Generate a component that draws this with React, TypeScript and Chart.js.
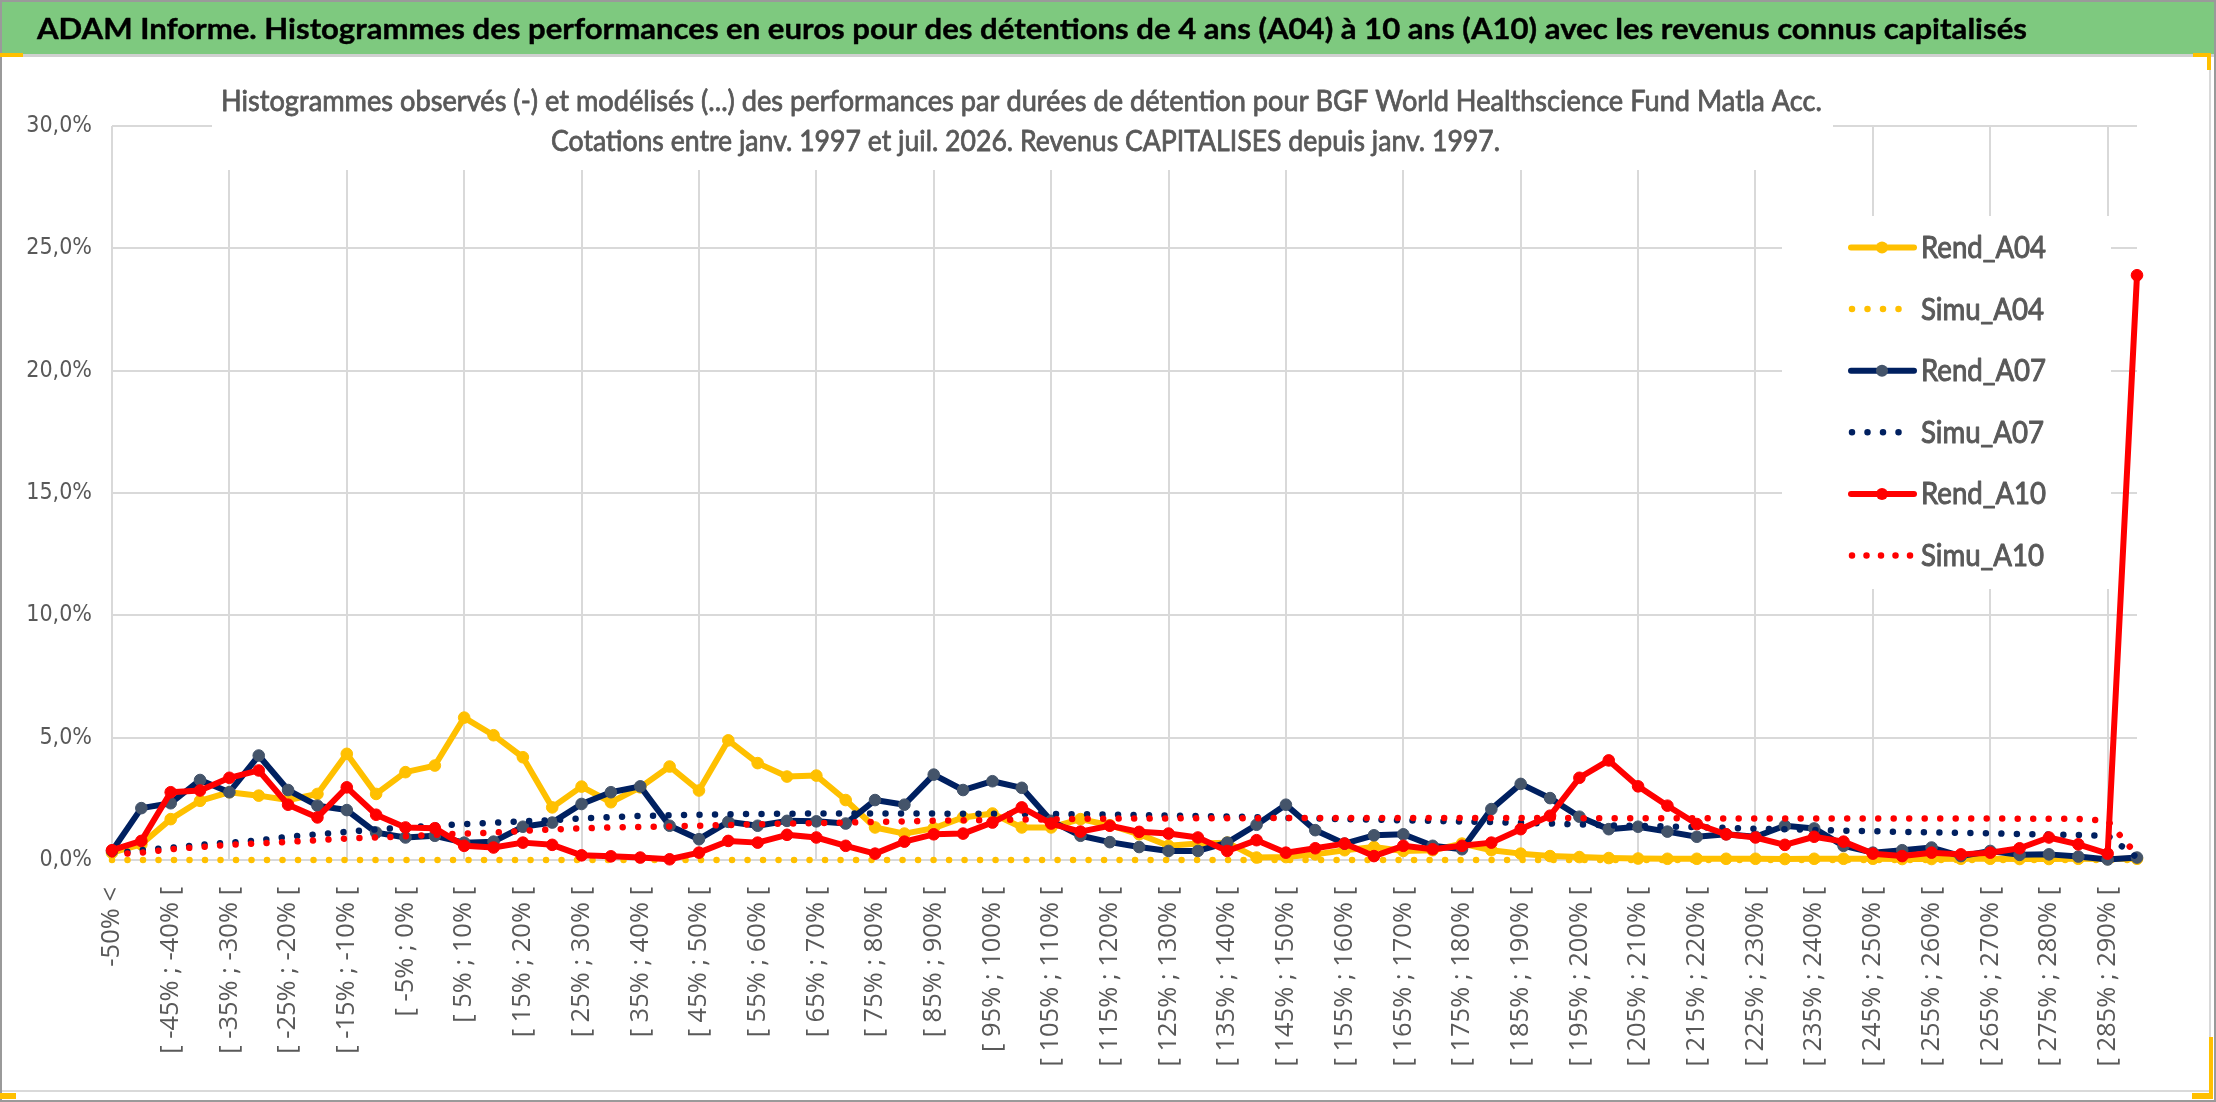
import { useEffect, useRef } from 'react';
import { Chart, registerables } from 'chart.js';

Chart.register(...registerables);

// classes de performance (pas de 5 %)
const categories: string[] = [
  '-50% <', '[ -50% ; -45% [', '[ -45% ; -40% [', '[ -40% ; -35% [', '[ -35% ; -30% [',
  '[ -30% ; -25% [', '[ -25% ; -20% [', '[ -20% ; -15% [', '[ -15% ; -10% [', '[ -10% ; -5% [',
  '[ -5% ; 0% [', '[ 0% ; 5% [', '[ 5% ; 10% [', '[ 10% ; 15% [', '[ 15% ; 20% [',
  '[ 20% ; 25% [', '[ 25% ; 30% [', '[ 30% ; 35% [', '[ 35% ; 40% [', '[ 40% ; 45% [',
  '[ 45% ; 50% [', '[ 50% ; 55% [', '[ 55% ; 60% [', '[ 60% ; 65% [', '[ 65% ; 70% [',
  '[ 70% ; 75% [', '[ 75% ; 80% [', '[ 80% ; 85% [', '[ 85% ; 90% [', '[ 90% ; 95% [',
  '[ 95% ; 100% [', '[ 100% ; 105% [', '[ 105% ; 110% [', '[ 110% ; 115% [', '[ 115% ; 120% [',
  '[ 120% ; 125% [', '[ 125% ; 130% [', '[ 130% ; 135% [', '[ 135% ; 140% [', '[ 140% ; 145% [',
  '[ 145% ; 150% [', '[ 150% ; 155% [', '[ 155% ; 160% [', '[ 160% ; 165% [', '[ 165% ; 170% [',
  '[ 170% ; 175% [', '[ 175% ; 180% [', '[ 180% ; 185% [', '[ 185% ; 190% [', '[ 190% ; 195% [',
  '[ 195% ; 200% [', '[ 200% ; 205% [', '[ 205% ; 210% [', '[ 210% ; 215% [', '[ 215% ; 220% [',
  '[ 220% ; 225% [', '[ 225% ; 230% [', '[ 230% ; 235% [', '[ 235% ; 240% [', '[ 240% ; 245% [',
  '[ 245% ; 250% [', '[ 250% ; 255% [', '[ 255% ; 260% [', '[ 260% ; 265% [', '[ 265% ; 270% [',
  '[ 270% ; 275% [', '[ 275% ; 280% [', '[ 280% ; 285% [', '[ 285% ; 290% [', '> 290%',
];

// fréquences en %
const rendA04: number[] = [
  0.30, 0.64, 1.67, 2.42, 2.77, 2.63, 2.45, 2.70, 4.34, 2.70,
  3.59, 3.86, 5.82, 5.10, 4.20, 2.15, 3.00, 2.36, 2.97, 3.82,
  2.84, 4.89, 3.96, 3.41, 3.45, 2.45, 1.33, 1.08, 1.30, 1.74,
  1.90, 1.33, 1.33, 1.67, 1.42, 1.05, 0.58, 0.67, 0.71, 0.10,
  0.12, 0.23, 0.40, 0.53, 0.37, 0.40, 0.67, 0.40, 0.26, 0.16,
  0.12, 0.08, 0.06, 0.05, 0.05, 0.05, 0.05, 0.04, 0.05, 0.05,
  0.05, 0.04, 0.04, 0.05, 0.05, 0.04, 0.04, 0.05, 0.04, 0.05,
];
const simuA04: number[] = [
  0, 0, 0, 0, 0, 0, 0, 0, 0, 0,
  0, 0, 0, 0, 0, 0, 0, 0, 0, 0,
  0, 0, 0, 0, 0, 0, 0, 0, 0, 0,
  0, 0, 0, 0, 0, 0, 0, 0, 0, 0,
  0, 0, 0, 0, 0, 0, 0, 0, 0, 0,
  0, 0, 0, 0, 0, 0, 0, 0, 0, 0,
  0, 0, 0, 0, 0, 0, 0, 0, 0, 0,
];
const rendA07: number[] = [
  0.37, 2.12, 2.32, 3.27, 2.77, 4.27, 2.86, 2.22, 2.04, 1.12,
  0.92, 0.99, 0.71, 0.75, 1.36, 1.53, 2.29, 2.77, 3.01, 1.40,
  0.85, 1.56, 1.40, 1.60, 1.58, 1.49, 2.45, 2.26, 3.49, 2.86,
  3.22, 2.95, 1.60, 0.99, 0.73, 0.53, 0.37, 0.37, 0.71, 1.44,
  2.26, 1.22, 0.67, 1.01, 1.05, 0.58, 0.44, 2.08, 3.11, 2.53,
  1.77, 1.26, 1.36, 1.16, 0.95, 1.05, 0.95, 1.40, 1.29, 0.58,
  0.30, 0.40, 0.51, 0.16, 0.37, 0.21, 0.23, 0.14, 0.02, 0.10,
];
const simuA07: number[] = [
  0.26, 0.40, 0.50, 0.62, 0.71, 0.80, 0.95, 1.05, 1.15, 1.25,
  1.33, 1.40, 1.47, 1.52, 1.58, 1.63, 1.70, 1.75, 1.80, 1.83,
  1.85, 1.87, 1.88, 1.89, 1.90, 1.90, 1.90, 1.90, 1.90, 1.89,
  1.89, 1.88, 1.88, 1.87, 1.86, 1.84, 1.82, 1.80, 1.78, 1.75,
  1.72, 1.70, 1.67, 1.65, 1.62, 1.60, 1.57, 1.55, 1.52, 1.49,
  1.45, 1.42, 1.39, 1.37, 1.34, 1.31, 1.28, 1.26, 1.23, 1.20,
  1.18, 1.15, 1.13, 1.11, 1.09, 1.06, 1.04, 1.02, 0.99, 0.10,
];
const rendA10: number[] = [
  0.40, 0.78, 2.77, 2.84, 3.36, 3.66, 2.26, 1.74, 2.97, 1.85,
  1.33, 1.30, 0.58, 0.51, 0.71, 0.62, 0.19, 0.15, 0.10, 0.03,
  0.30, 0.78, 0.71, 1.03, 0.92, 0.58, 0.26, 0.75, 1.05, 1.08,
  1.53, 2.15, 1.49, 1.16, 1.40, 1.15, 1.08, 0.92, 0.37, 0.81,
  0.30, 0.48, 0.67, 0.16, 0.58, 0.44, 0.58, 0.71, 1.26, 1.81,
  3.36, 4.07, 3.01, 2.22, 1.47, 1.05, 0.92, 0.62, 0.95, 0.75,
  0.26, 0.16, 0.30, 0.23, 0.30, 0.48, 0.92, 0.64, 0.26, 23.90,
];
const simuA10: number[] = [
  0.23, 0.30, 0.44, 0.53, 0.62, 0.68, 0.74, 0.81, 0.88, 0.92,
  0.97, 1.03, 1.08, 1.12, 1.19, 1.25, 1.29, 1.33, 1.35, 1.37,
  1.40, 1.43, 1.46, 1.49, 1.51, 1.53, 1.56, 1.58, 1.60, 1.62,
  1.63, 1.65, 1.66, 1.68, 1.69, 1.70, 1.70, 1.71, 1.71, 1.71,
  1.72, 1.72, 1.72, 1.72, 1.72, 1.72, 1.72, 1.72, 1.72, 1.72,
  1.71, 1.71, 1.71, 1.71, 1.71, 1.70, 1.70, 1.70, 1.70, 1.70,
  1.70, 1.70, 1.70, 1.70, 1.70, 1.69, 1.69, 1.68, 1.60, 0.20,
];

const seriesNames = ['Rend_A04', 'Simu_A04', 'Rend_A07', 'Simu_A07', 'Rend_A10', 'Simu_A10'];

const bannerText =
  'ADAM Informe. Histogrammes des performances en euros pour des détentions de 4 ans (A04) à 10 ans (A10) avec les revenus connus capitalisés';
const titleLines = [
  'Histogrammes observés (-) et modélisés (...) des performances par durées de détention pour BGF World Healthscience Fund Matla Acc.',
  'Cotations entre janv. 1997 et juil. 2026. Revenus CAPITALISES depuis janv. 1997.',
];

const GRAY = '#595959';
const GRID = '#d9d9d9';
const YELLOW = '#FFC000';
const NAVY = '#002060';
const SLATE = '#44546A';
const RED = '#FF0000';

// texte ajusté à une largeur donnée, avec un léger contour pour épaissir le trait
function fitText(
  ctx: CanvasRenderingContext2D, text: string, x: number, y: number, width: number,
  font: string, color: string, stroke = 0,
) {
  ctx.save();
  ctx.font = font;
  ctx.fillStyle = color;
  ctx.strokeStyle = color;
  ctx.textAlign = 'left';
  ctx.textBaseline = 'alphabetic';
  const w = ctx.measureText(text).width;
  ctx.translate(x, y);
  ctx.scale(width / w, 1);
  ctx.fillText(text, 0, 0);
  if (stroke > 0) {
    ctx.lineWidth = stroke;
    ctx.lineJoin = 'round';
    ctx.strokeText(text, 0, 0);
  }
  ctx.restore();
}

const decorPlugin = {
  id: 'decor',
  beforeDraw(chart: Chart) {
    const ctx = chart.ctx;
    ctx.save();
    ctx.fillStyle = '#ffffff';
    ctx.fillRect(0, 0, chart.width, chart.height);
    // bandeau vert
    ctx.fillStyle = '#7ec97f';
    ctx.fillRect(0, 2, chart.width, 52);
    ctx.fillStyle = '#8a8a8a';
    ctx.fillRect(0, 0, chart.width, 2);
    ctx.fillStyle = '#d0d0d0';
    ctx.fillRect(0, 54, chart.width, 3);
    ctx.restore();
    fitText(ctx, bannerText, 37, 39, 1990, 'bold 29px Lato, "Open Sans", sans-serif', '#000000', 0.4);
  },
  beforeDatasetsDraw(chart: Chart) {
    const ctx = chart.ctx;
    ctx.save();
    ctx.fillStyle = '#ffffff';
    ctx.fillRect(212, 60, 1621, 110); // titre
    ctx.fillRect(1782, 216, 329, 373); // légende
    ctx.restore();
  },
  afterDraw(chart: Chart) {
    const ctx = chart.ctx;
    const titleFont = 'normal 29px Lato, "Open Sans", sans-serif';
    fitText(ctx, titleLines[0], 221, 111, 1601, titleFont, GRAY, 0.8);
    fitText(ctx, titleLines[1], 551, 151, 949, titleFont, GRAY, 0.8);

    // légende
    const colors = [YELLOW, YELLOW, NAVY, NAVY, RED, RED];
    const markers = [YELLOW, null, SLATE, null, RED, null];
    const legendFont = 'normal 30px Lato, "Open Sans", sans-serif';
    seriesNames.forEach((name, i) => {
      const cy = 247.5 + i * 61.6;
      ctx.save();
      ctx.strokeStyle = colors[i];
      ctx.lineWidth = 6;
      ctx.lineCap = 'round';
      if (markers[i]) {
        ctx.beginPath();
        ctx.moveTo(1851, cy);
        ctx.lineTo(1914, cy);
        ctx.stroke();
        ctx.fillStyle = markers[i] as string;
        ctx.beginPath();
        ctx.arc(1882, cy, 6, 0, Math.PI * 2);
        ctx.fill();
      } else {
        const gap = i === 5 ? 14.5 : 15.5;
        ctx.lineWidth = 6.5;
        ctx.setLineDash([0.001, gap]);
        ctx.beginPath();
        ctx.moveTo(1852, cy);
        ctx.lineTo(1912, cy);
        ctx.stroke();
      }
      ctx.restore();
      const w = name.startsWith('Rend') ? 125 : 123;
      fitText(ctx, name, 1921, cy + 10.5, w, legendFont, GRAY, 1);
    });

    // cadre
    ctx.save();
    ctx.fillStyle = GRID;
    ctx.fillRect(2209, 57, 2, 1035);
    ctx.fillRect(0, 1090, 2211, 2);
    ctx.strokeStyle = '#9a9a9a';
    ctx.lineWidth = 2;
    ctx.strokeRect(1, 1, chart.width - 2, chart.height - 2);
    ctx.fillStyle = YELLOW;
    ctx.fillRect(0, 53, 23, 4);
    ctx.fillRect(2193, 53, 18, 4);
    ctx.fillRect(2207, 53, 4, 17);
    ctx.fillRect(0, 1093, 16, 6);
    ctx.fillRect(2192, 1093, 21, 6);
    ctx.fillRect(2209, 1037, 4, 62);
    ctx.restore();
  },
};

const dotted = { borderDash: [0.001, 15.5], borderCapStyle: 'round' as const, pointRadius: 0, borderWidth: 6.5 };
const solid = { borderWidth: 6, borderJoinStyle: 'round' as const, pointRadius: 5.8, pointBorderWidth: 1 };

export default function App() {
  const canvasRef = useRef<HTMLCanvasElement>(null);
  const chartRef = useRef<Chart | null>(null);

  useEffect(() => {
    if (!canvasRef.current) return;
    if (chartRef.current) chartRef.current.destroy();

    chartRef.current = new Chart(canvasRef.current, {
      type: 'line',
      data: {
        labels: categories,
        datasets: [
          { label: seriesNames[0], data: rendA04, borderColor: YELLOW, pointBackgroundColor: YELLOW, pointBorderColor: YELLOW, order: 5, ...solid },
          { label: seriesNames[1], data: simuA04, borderColor: YELLOW, order: 4, ...dotted },
          { label: seriesNames[2], data: rendA07, borderColor: NAVY, pointBackgroundColor: SLATE, pointBorderColor: SLATE, order: 3, ...solid },
          { label: seriesNames[3], data: simuA07, borderColor: NAVY, order: 2, ...dotted },
          { label: seriesNames[4], data: rendA10, borderColor: RED, pointBackgroundColor: RED, pointBorderColor: RED, order: 1, ...solid },
          { label: seriesNames[5], data: simuA10, borderColor: RED, order: 0, ...dotted },
        ].map((d) => ({ ...d, tension: 0, clip: 12 })),
      },
      options: {
        responsive: true,
        maintainAspectRatio: false,
        animation: false,
        events: [],
        layout: { padding: { top: 126, right: 79, bottom: 0, left: 0 } },
        plugins: {
          legend: { display: false },
          title: { display: false },
          tooltip: { enabled: false },
        },
        scales: {
          x: {
            offset: false,
            border: { display: false },
            grid: {
              offset: false,
              drawTicks: false,
              lineWidth: 2,
              color: (c: any) => (c.index % 4 === 0 ? GRID : 'rgba(0,0,0,0)'),
            },
            ticks: {
              autoSkip: false,
              maxRotation: 90,
              minRotation: 90,
              padding: 27,
              color: GRAY,
              font: { family: '"Open Sans", sans-serif', size: 25.5 },
              callback: (_v: any, i: number) => (i % 2 === 0 ? categories[i] : ''),
            },
            afterFit: (s: any) => { s.height = 242; },
          },
          y: {
            min: 0,
            max: 30,
            border: { display: false },
            grid: { color: GRID, lineWidth: 2, drawTicks: false },
            ticks: {
              stepSize: 5,
              padding: 20,
              color: GRAY,
              font: { family: '"Liberation Sans Narrow", "DejaVu Sans Condensed", sans-serif', size: 23 },
              callback: (v: any) => `${Number(v).toFixed(1).replace('.', ',')}%`,
            },
            afterFit: (s: any) => { s.width = 112; },
          },
        },
      },
      plugins: [decorPlugin],
    });

    return () => {
      if (chartRef.current) {
        chartRef.current.destroy();
        chartRef.current = null;
      }
    };
  }, []);

  return (
    <div style={{ position: 'absolute', left: 0, top: 0, width: 2216, height: 1102 }}>
      <canvas ref={canvasRef} />
    </div>
  );
}
